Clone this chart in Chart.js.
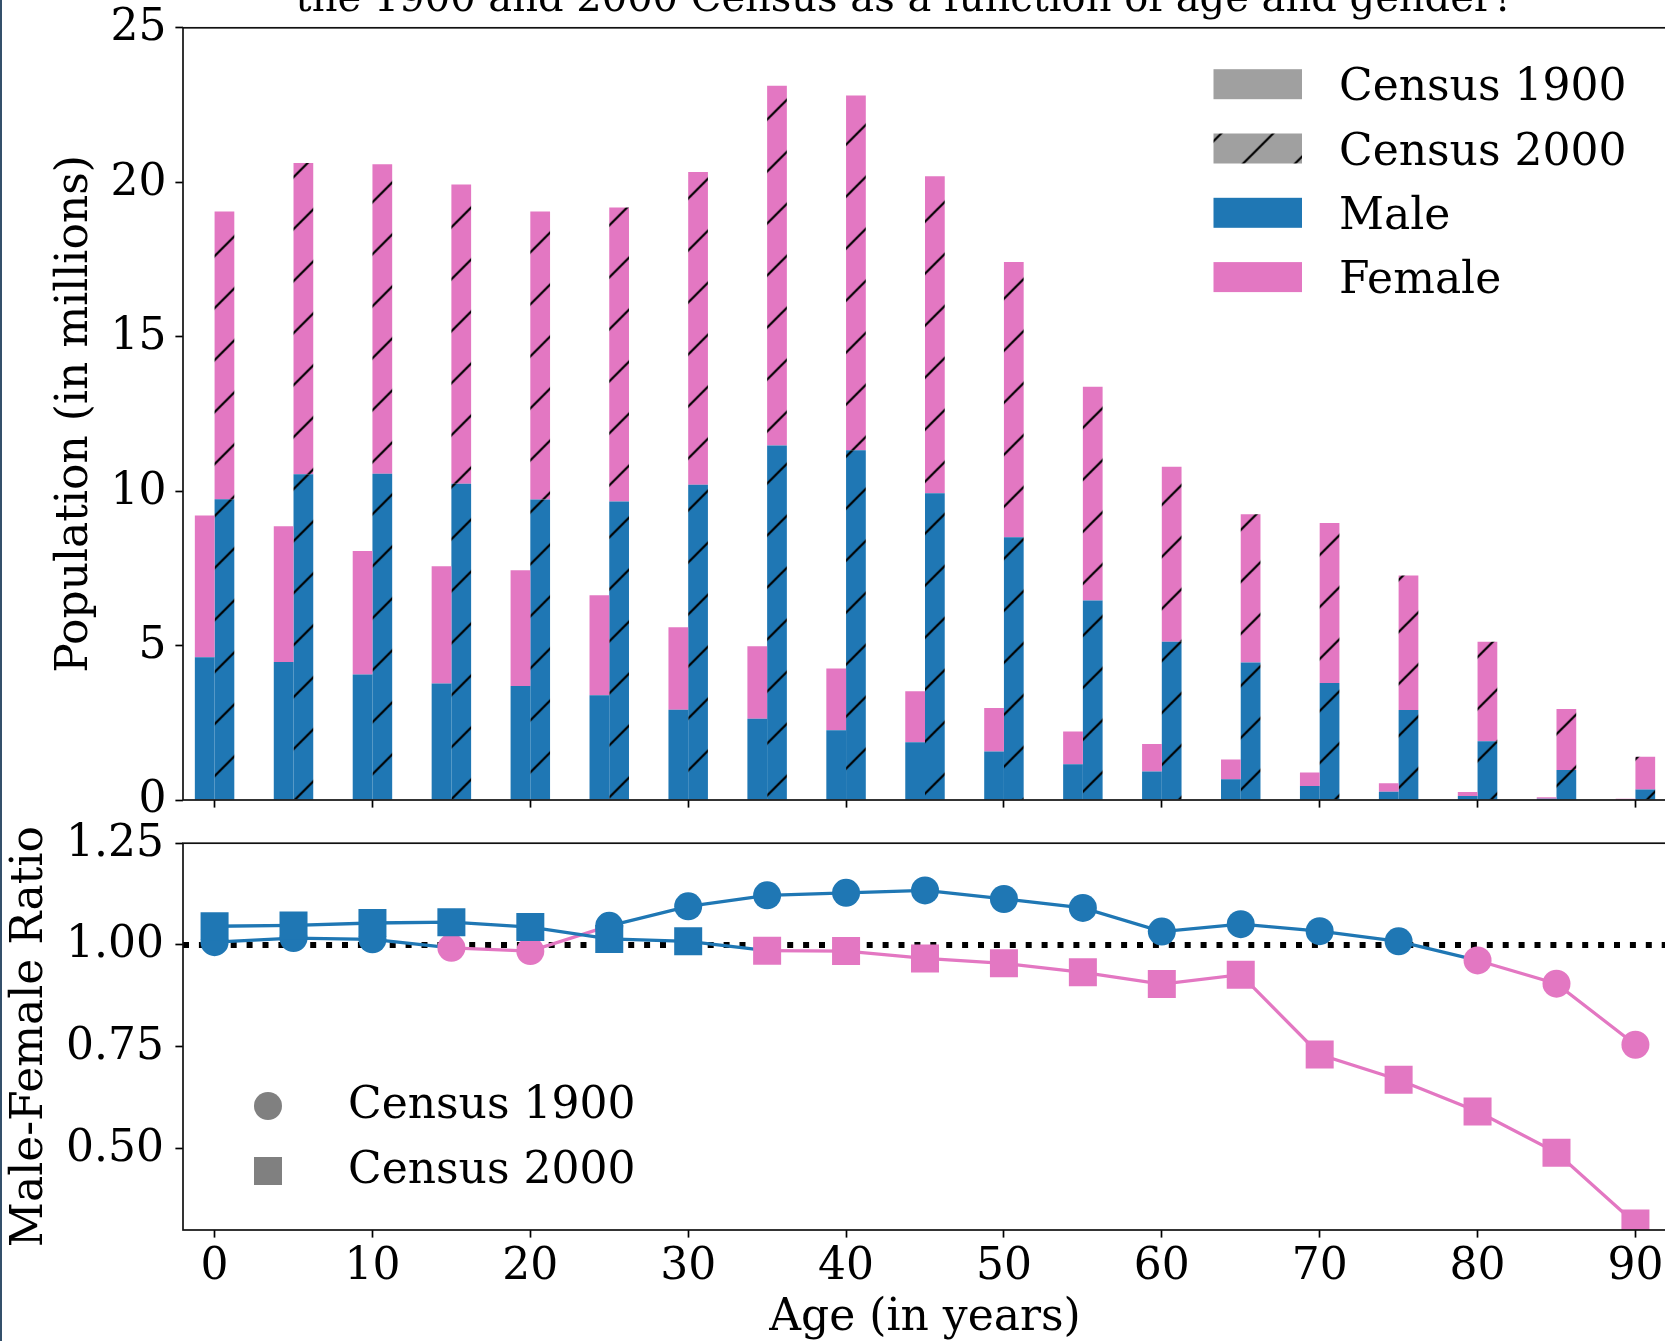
<!DOCTYPE html>
<html>
<head>
<meta charset="utf-8">
<script src="https://cdn.jsdelivr.net/npm/chart.js@4.4.1/dist/chart.umd.min.js"></script>
<style>
  html, body { margin: 0; padding: 0; background: #fff; overflow: hidden; }
  #wrap { position: relative; width: 1665px; height: 1341px; overflow: hidden; background: #fff; }
  #popChart { position: absolute; left: 0; top: 0; }
  #ratioChart { position: absolute; left: 0; top: 800px; }
  #edge { position: absolute; left: 0; top: 0; width: 2px; height: 1341px; background: #34506b; }
</style>
</head>
<body>
<div id="wrap">
  <canvas id="popChart" width="1672" height="830" style="width:1672px;height:830px"></canvas>
  <canvas id="ratioChart" width="1672" height="560" style="width:1672px;height:560px"></canvas>
  <div id="edge"></div>
</div>
<script>
// age groups (years)
var ages = [0, 5, 10, 15, 20, 25, 30, 35, 40, 45, 50, 55, 60, 65, 70, 75, 80, 85, 90];

// population in millions
var male1900   = [4.62, 4.47, 4.06, 3.77, 3.69, 3.39, 2.92, 2.63, 2.26, 1.87, 1.57, 1.16, 0.92, 0.67, 0.45, 0.27, 0.13, 0.04, 0.02];
var female1900 = [4.59, 4.39, 4.00, 3.80, 3.75, 3.24, 2.67, 2.35, 2.00, 1.65, 1.41, 1.06, 0.89, 0.64, 0.44, 0.27, 0.13, 0.05, 0.02];
var male2000   = [9.74, 10.55, 10.56, 10.24, 9.73, 9.66, 10.21, 11.48, 11.32, 9.93, 8.51, 6.46, 5.12, 4.45, 3.79, 2.91, 1.90, 0.97, 0.34];
var female2000 = [9.31, 10.07, 10.02, 9.69, 9.32, 9.52, 10.12, 11.64, 11.49, 10.26, 8.91, 6.92, 5.67, 4.80, 5.18, 4.36, 3.22, 1.98, 1.06];

// male-female ratio
var ratio1900 = [1.007, 1.017, 1.014, 0.993, 0.985, 1.047, 1.095, 1.122, 1.128, 1.134, 1.113, 1.091, 1.033, 1.051, 1.034, 1.009, 0.962, 0.905, 0.755];
var ratio2000 = [1.046, 1.048, 1.054, 1.056, 1.044, 1.015, 1.009, 0.986, 0.985, 0.967, 0.955, 0.933, 0.904, 0.927, 0.731, 0.669, 0.591, 0.490, 0.316];

// tick labels
var ageTicks = [0, 10, 20, 30, 40, 50, 60, 70, 80, 90];
var popTicks = [0, 5, 10, 15, 20, 25];
var ratioTicks = [0.5, 0.75, 1.0, 1.25];

var BLUE = '#1f77b4';
var PINK = '#e377c2';
var GRAY = '#a0a0a0';
var FONT = "'DejaVu Serif', serif";

Chart.defaults.font.family = FONT;
Chart.defaults.font.size = 44;
Chart.defaults.color = '#000';

function hatch(color) {
    var s = 52;
    var c = document.createElement('canvas');
    c.width = s; c.height = s;
    var g = c.getContext('2d');
    g.fillStyle = color;
    g.fillRect(0, 0, s, s);
    g.strokeStyle = '#000';
    g.lineWidth = 2.2;
    g.beginPath();
    for (var k = -1; k <= 1; k++) {
        g.moveTo(k * s - 2, s + 2);
        g.lineTo(k * s + s + 2, -2);
    }
    g.stroke();
    var p = g.createPattern(c, 'repeat');
    p.setTransform(new DOMMatrix().translate(2.6, 0));
    return p;
}

function fixedTicks(list) {
    return function (scale) {
        scale.ticks = list.map(function (v) { return { value: v }; });
    };
}

// fix axis box size and stop tick labels from pushing the plot area in
function boxSize(w, h) {
    return function (s) {
        if (w !== null) s.width = w;
        if (h !== null) s.height = h;
        s.paddingTop = 0; s.paddingBottom = 0;
        s.paddingLeft = 0; s.paddingRight = 0;
    };
}

var tickGrid = { drawOnChartArea: false, drawTicks: true, tickLength: 7.6, tickWidth: 1.7, tickColor: '#000', offset: false };

// frame round the plot area (matplotlib spines)
var frame = {
    id: 'frame',
    afterDatasetsDraw: function (chart) {
        var a = chart.chartArea, ctx = chart.ctx;
        ctx.save();
        ctx.strokeStyle = '#111';
        ctx.lineWidth = 1.7;
        ctx.strokeRect(a.left, a.top, a.right - a.left, a.bottom - a.top);
        ctx.restore();
    }
};

var popExtras = {
    id: 'popExtras',
    afterDraw: function (chart) {
        var ctx = chart.ctx;
        ctx.save();
        ctx.fillStyle = '#000';
        ctx.font = '40px ' + FONT;
        ctx.textAlign = 'center';
        ctx.textBaseline = 'alphabetic';
        ctx.fillText('the 1900 and 2000 Census as a function of age and gender?', 905, 11);

        var rows = [
            ['Census 1900', GRAY],
            ['Census 2000', hatch(GRAY)],
            ['Male', BLUE],
            ['Female', PINK]
        ];
        ctx.font = '44px ' + FONT;
        ctx.textAlign = 'left';
        rows.forEach(function (r, i) {
            var y = 84.2 + i * 64.3;
            ctx.fillStyle = r[1];
            ctx.fillRect(1213.5, y - 15, 88.5, 30);
            ctx.fillStyle = '#000';
            ctx.fillText(r[0], 1339, y + 16);
        });
        ctx.restore();
    }
};

var popChart = new Chart(document.getElementById('popChart').getContext('2d'), {
    type: 'bar',
    data: {
        labels: ages,
        datasets: [
            { label: 'Male 1900', data: male1900, stack: '1900', backgroundColor: BLUE },
            { label: 'Female 1900', data: female1900, stack: '1900', backgroundColor: PINK },
            { label: 'Male 2000', data: male2000, stack: '2000', backgroundColor: hatch(BLUE) },
            { label: 'Female 2000', data: female2000, stack: '2000', backgroundColor: hatch(PINK) }
        ]
    },
    options: {
        responsive: false,
        animation: false,
        devicePixelRatio: 1,
        events: [],
        categoryPercentage: 0.5,
        barPercentage: 1.0,
        borderWidth: 0,
        layout: { autoPadding: false, padding: { top: 27.8, right: 5, bottom: 0, left: 0 } },
        plugins: { legend: { display: false }, tooltip: { enabled: false } },
        scales: {
            x: {
                type: 'linear', min: -2, max: 92, offset: false,
                afterBuildTicks: fixedTicks(ageTicks),
                afterFit: boxSize(null, 30),
                ticks: { display: false },
                grid: tickGrid,
                border: { display: false }
            },
            y: {
                min: 0, max: 25, stacked: true,
                afterBuildTicks: fixedTicks(popTicks),
                afterFit: boxSize(183, null),
                ticks: { padding: 9, labelOffset: 1 },
                grid: tickGrid,
                border: { display: false },
                title: { display: true, text: 'Population (in millions)', padding: { top: 49.6, bottom: 0 } }
            }
        }
    },
    plugins: [frame, popExtras]
});

var refLine = {
    id: 'refLine',
    beforeDatasetsDraw: function (chart) {
        var a = chart.chartArea, ctx = chart.ctx;
        var y = chart.scales.y.getPixelForValue(1.0);
        ctx.save();
        ctx.beginPath();
        ctx.rect(a.left, a.top, a.right - a.left, a.bottom - a.top);
        ctx.clip();
        ctx.strokeStyle = '#000';
        ctx.lineWidth = 6;
        ctx.setLineDash([6, 9.9]);
        ctx.beginPath();
        ctx.moveTo(a.left, y);
        ctx.lineTo(a.right, y);
        ctx.stroke();
        ctx.restore();
    }
};

var ratioLegend = {
    id: 'ratioLegend',
    afterDraw: function (chart) {
        var ctx = chart.ctx;
        ctx.save();
        ctx.fillStyle = '#808080';
        ctx.beginPath();
        ctx.arc(268, 306, 14, 0, Math.PI * 2);
        ctx.fill();
        ctx.fillRect(254, 357, 28, 28);
        ctx.fillStyle = '#000';
        ctx.font = '44px ' + FONT;
        ctx.textAlign = 'left';
        ctx.textBaseline = 'alphabetic';
        ctx.fillText('Census 1900', 348, 317.5);
        ctx.fillText('Census 2000', 348, 382.5);
        ctx.restore();
    }
};

function sideColor(list) {
    return function (c) { return list[c.p0DataIndex] >= 1 ? BLUE : PINK; };
}

var ratioChart = new Chart(document.getElementById('ratioChart').getContext('2d'), {
    type: 'line',
    data: {
        labels: ages,
        datasets: [
            {
                label: 'Census 2000', data: ratio2000, order: 1, clip: 0,
                pointStyle: 'rect', pointRadius: 19.8, pointBorderWidth: 0,
                pointBackgroundColor: ratio2000.map(function (v) { return v >= 1 ? BLUE : PINK; }),
                borderWidth: 3.3, borderColor: BLUE,
                segment: { borderColor: sideColor(ratio2000) }
            },
            {
                label: 'Census 1900', data: ratio1900, order: 2, clip: 0,
                pointStyle: 'circle', pointRadius: 14, pointBorderWidth: 0,
                pointBackgroundColor: ratio1900.map(function (v) { return v >= 1 ? BLUE : PINK; }),
                borderWidth: 3.3, borderColor: BLUE,
                segment: { borderColor: sideColor(ratio1900) }
            }
        ]
    },
    options: {
        responsive: false,
        animation: false,
        devicePixelRatio: 1,
        events: [],
        layout: { autoPadding: false, padding: { top: 43.2, right: 5, bottom: 0, left: 0 } },
        plugins: { legend: { display: false }, tooltip: { enabled: false } },
        scales: {
            x: {
                type: 'linear', min: -2, max: 92, offset: false,
                afterBuildTicks: fixedTicks(ageTicks),
                afterFit: boxSize(null, 130),
                ticks: { padding: 4, maxRotation: 0 },
                grid: tickGrid,
                border: { display: false },
                title: { display: true, text: 'Age (in years)', padding: { top: 0, bottom: 14.6 } }
            },
            y: {
                min: 0.3, max: 1.25,
                afterBuildTicks: fixedTicks(ratioTicks),
                afterFit: boxSize(183, null),
                ticks: { padding: 11.5, labelOffset: 1, callback: function (v) { return v.toFixed(2); } },
                grid: tickGrid,
                border: { display: false },
                title: { display: true, text: 'Male-Female Ratio', padding: { top: 4.6, bottom: 0 } }
            }
        }
    },
    plugins: [refLine, frame, ratioLegend]
});
</script>
</body>
</html>
